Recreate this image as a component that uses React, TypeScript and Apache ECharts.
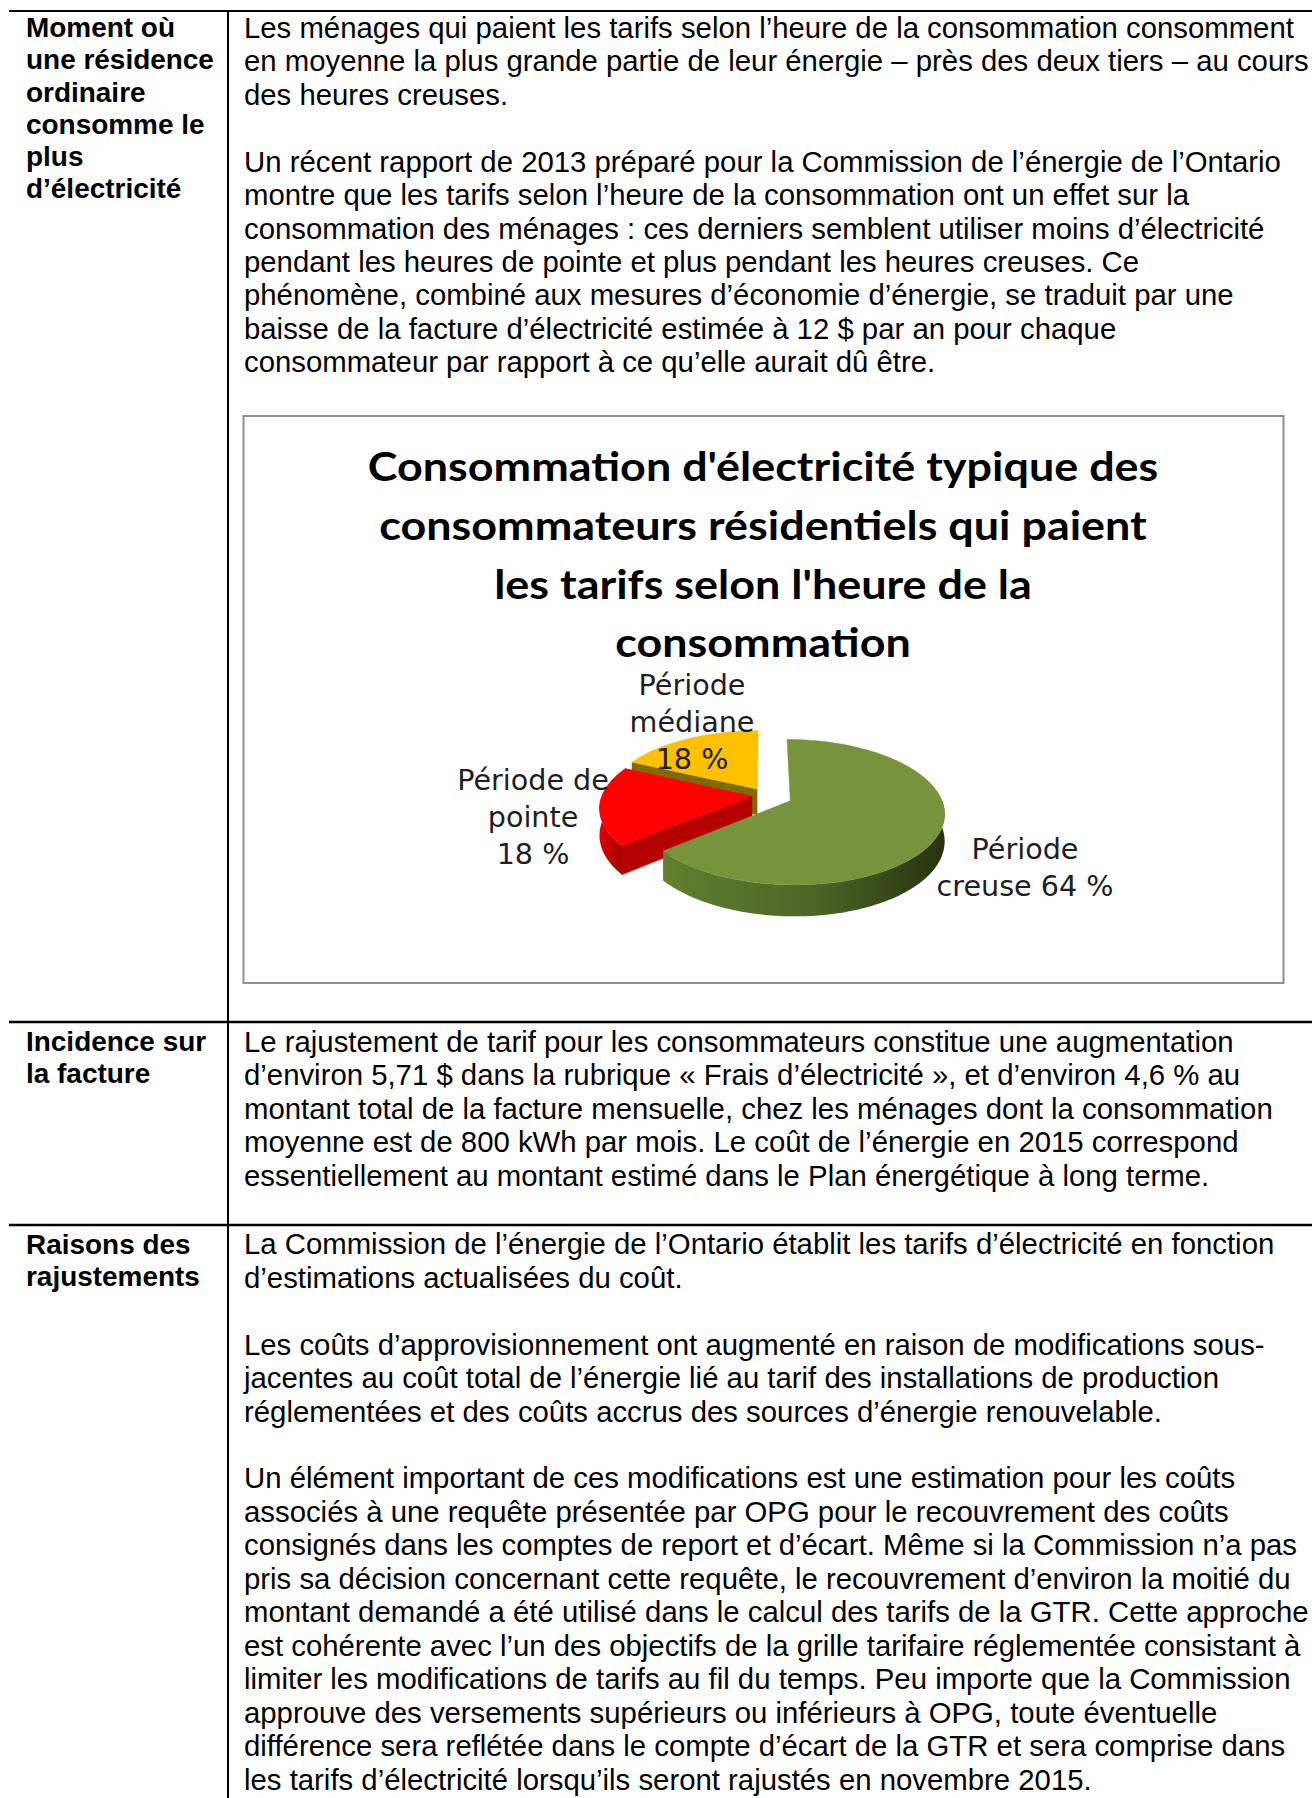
import React, { useEffect, useRef } from "react";
import * as echarts from "echarts";

// ---------------- data ----------------
const categories = ["Période creuse", "Période de pointe", "Période médiane"];
const values = [64, 18, 18];
const valueLabels = values.map((v) => `${v} %`);
const sliceLabelLines = [
  ["Période", `creuse ${valueLabels[0]}`],
  ["Période de", "pointe", valueLabels[1]],
  ["Période", "médiane", valueLabels[2]],
];
const titleLines = [
  "Consommation d'électricité typique des",
  "consommateurs résidentiels qui paient",
  "les tarifs selon l'heure de la",
  "consommation",
];
const rowHeads = [
  ["Moment où", "une résidence", "ordinaire", "consomme le", "plus", "d’électricité"],
  ["Incidence sur", "la facture"],
  ["Raisons des", "rajustements"],
];
const rowBodies = [
  [
    "Les ménages qui paient les tarifs selon l’heure de la consommation consomment",
    "en moyenne la plus grande partie de leur énergie – près des deux tiers – au cours",
    "des heures creuses.",
    "",
    "Un récent rapport de 2013 préparé pour la Commission de l’énergie de l’Ontario",
    "montre que les tarifs selon l’heure de la consommation ont un effet sur la",
    "consommation des ménages : ces derniers semblent utiliser moins d’électricité",
    "pendant les heures de pointe et plus pendant les heures creuses. Ce",
    "phénomène, combiné aux mesures d’économie d’énergie, se traduit par une",
    "baisse de la facture d’électricité estimée à 12 $ par an pour chaque",
    "consommateur par rapport à ce qu’elle aurait dû être.",
  ],
  [
    "Le rajustement de tarif pour les consommateurs constitue une augmentation",
    "d’environ 5,71 $ dans la rubrique « Frais d’électricité », et d’environ 4,6 % au",
    "montant total de la facture mensuelle, chez les ménages dont la consommation",
    "moyenne est de 800 kWh par mois. Le coût de l’énergie en 2015 correspond",
    "essentiellement au montant estimé dans le Plan énergétique à long terme.",
  ],
  [
    "La Commission de l’énergie de l’Ontario établit les tarifs d’électricité en fonction",
    "d’estimations actualisées du coût.",
    "",
    "Les coûts d’approvisionnement ont augmenté en raison de modifications sous-",
    "jacentes au coût total de l’énergie lié au tarif des installations de production",
    "réglementées et des coûts accrus des sources d’énergie renouvelable.",
    "",
    "Un élément important de ces modifications est une estimation pour les coûts",
    "associés à une requête présentée par OPG pour le recouvrement des coûts",
    "consignés dans les comptes de report et d’écart. Même si la Commission n’a pas",
    "pris sa décision concernant cette requête, le recouvrement d’environ la moitié du",
    "montant demandé a été utilisé dans le calcul des tarifs de la GTR. Cette approche",
    "est cohérente avec l’un des objectifs de la grille tarifaire réglementée consistant à",
    "limiter les modifications de tarifs au fil du temps. Peu importe que la Commission",
    "approuve des versements supérieurs ou inférieurs à OPG, toute éventuelle",
    "différence sera reflétée dans le compte d’écart de la GTR et sera comprise dans",
    "les tarifs d’électricité lorsqu’ils seront rajustés en novembre 2015.",
  ],
];

// ---------------- layout / style ----------------
const PAGE_W = 1312;
const PAGE_H = 1798;
const BODY_FF = '"Liberation Sans", Arial, sans-serif';
const BODY_TARGET_W = 1050; // width of first body line
const HEAD_TARGET_W = 188; // width of "une résidence"
const BODY_LH = 33.45;
const HEAD_LH = 32.1;
const LEFT_X = 26;
const RIGHT_X = 244;
const ROW_BASELINES = [37.5, 1051.5, 1254];
const ROW_LINES = [11, 1022, 1225];
const DIVIDER_X = 228;
const BOX = { x: 243.5, y: 416, w: 1040, h: 567 };
const TITLE = { cx: 763, baselines: [481, 540, 598.5, 657], fs: 39.5, ff: "Lato, sans-serif", targetW: 791 };
const LABEL = { ff: '"DejaVu Sans", sans-serif', lh: 37, color: "#1e1e1e", targetW: 177 };
const LABEL_POS = [
  { cx: 1025, baseline: 859 },
  { cx: 533, baseline: 789.5 },
  { cx: 692, baseline: 695 },
];
const PIE = { cx: 766, cy: 795.5, rx: 150, ry: 69.3, p: 0.155, depth: 26.2 };
const EXPLODE = [0.177, 0.094, 0.112];
const COLORS = [
  { top: "#77933C", side: ["#62802F", "#4C6426", "#27330F"], face: "#4F6228" },
  { top: "#FF0000", side: ["#E00000", "#C00000", "#A00000"], face: "#B40000" },
  { top: "#FFC000", side: ["#BF9000", "#A07800", "#806000"], face: "#806A08" },
];

function measureWidth(text: string, font: string) {
  const c = document.createElement("canvas").getContext("2d")!;
  c.font = font;
  return c.measureText(text).width;
}

function buildOption() {
  const bodyFs = (BODY_TARGET_W / measureWidth(rowBodies[0][0], `100px ${BODY_FF}`)) * 100;
  const headFs = (HEAD_TARGET_W / measureWidth(rowHeads[0][1], `bold 100px ${BODY_FF}`)) * 100;
  const titleScale = TITLE.targetW / measureWidth(titleLines[0], `bold ${TITLE.fs}px ${TITLE.ff}`);
  const labelFs = (LABEL.targetW / measureWidth(sliceLabelLines[0][1], `100px ${LABEL.ff}`)) * 100;

  const txt = (
    text: string,
    x: number,
    baseline: number,
    fs: number,
    ff: string,
    fw: string,
    sx: number,
    k: number,
    align: string,
    fill: string
  ) => ({
    type: "text",
    x,
    y: baseline - k * fs,
    scaleX: sx,
    z: 100,
    silent: true,
    style: {
      text,
      fontSize: fs,
      fontFamily: ff,
      fontWeight: fw,
      fill,
      align,
      verticalAlign: "middle",
    },
  });

  const graphics: any[] = [];
  ROW_LINES.forEach((y, i) =>
    graphics.push({
      type: "line",
      z: 90,
      shape: { x1: 9, y1: y, x2: PAGE_W, y2: y },
      style: { stroke: "#000", lineWidth: i === 0 ? 2 : 2.5 },
    })
  );
  graphics.push({
    type: "line",
    z: 90,
    shape: { x1: DIVIDER_X, y1: ROW_LINES[0], x2: DIVIDER_X, y2: PAGE_H },
    style: { stroke: "#000", lineWidth: 2 },
  });
  graphics.push({
    type: "rect",
    z: 1,
    shape: { x: BOX.x, y: BOX.y, width: BOX.w, height: BOX.h },
    style: { fill: "rgba(0,0,0,0)", stroke: "#8f8f8f", lineWidth: 2 },
  });
  rowHeads.forEach((lines, r) =>
    lines.forEach((t, i) =>
      graphics.push(
        txt(t, LEFT_X, ROW_BASELINES[r] + i * HEAD_LH, headFs, BODY_FF, "bold", 1, 0.3465, "left", "#000")
      )
    )
  );
  rowBodies.forEach((lines, r) =>
    lines.forEach((t, i) => {
      if (!t) return;
      graphics.push(
        txt(t, RIGHT_X, ROW_BASELINES[r] + i * BODY_LH, bodyFs, BODY_FF, "normal", 1, 0.3465, "left", "#000")
      );
    })
  );
  titleLines.forEach((t, i) =>
    graphics.push(txt(t, TITLE.cx, TITLE.baselines[i], TITLE.fs, TITLE.ff, "bold", titleScale, 0.387, "center", "#000"))
  );
  sliceLabelLines.forEach((lines, c) =>
    lines.forEach((t, i) =>
      graphics.push(
        txt(t, LABEL_POS[c].cx, LABEL_POS[c].baseline + i * LABEL.lh, labelFs, LABEL.ff, "normal", 1, 0.346, "center", LABEL.color)
      )
    )
  );

  const total = values.reduce((a, b) => a + b, 0);
  const starts = values.map((_, i) => values.slice(0, i).reduce((a, b) => a + b, 0));
  const drawOrder = [2, 1, 0];
  const pieData = drawOrder.map((i) => ({ name: categories[i], value: [values[i], starts[i], i] }));

  const renderItem = (_params: any, api: any) => {
    const v = api.value(0);
    const st = api.value(1);
    const idx = api.value(2);
    const a0 = (st / total) * 2 * Math.PI;
    const a1 = ((st + v) / total) * 2 * Math.PI;
    const mid = (a0 + a1) / 2;
    const e = EXPLODE[idx];
    const ox = e * Math.sin(mid);
    const oz = -e * Math.cos(mid);
    const proj = (X: number, Z: number, down: boolean) => {
      const s = 1 / (1 - PIE.p * Z);
      return [PIE.cx + PIE.rx * X * s, PIE.cy + PIE.ry * Z * s + (down ? PIE.depth * s : 0)];
    };
    const rim = (a: number, down: boolean) => proj(Math.sin(a) + ox, -Math.cos(a) + oz, down);
    const ctr = (down: boolean) => proj(ox, oz, down);
    const arc = (from: number, to: number, down: boolean) => {
      const n = Math.max(2, Math.ceil(Math.abs(to - from) / (Math.PI / 180)));
      const pts: number[][] = [];
      for (let k = 0; k <= n; k++) pts.push(rim(from + ((to - from) * k) / n, down));
      return pts;
    };
    const col = COLORS[idx];
    const poly = (points: number[][], fill: any) => ({
      type: "polygon",
      shape: { points },
      style: { fill, stroke: typeof fill === "string" ? fill : "none", lineWidth: 0.5 },
    });
    const children: any[] = [];
    if (Math.sin(a0) < -1e-6) children.push(poly([ctr(false), rim(a0, false), rim(a0, true), ctr(true)], col.face));
    if (Math.sin(a1) > 1e-6) children.push(poly([ctr(false), rim(a1, false), rim(a1, true), ctr(true)], col.face));
    const fs = Math.max(a0, Math.PI / 2);
    const fe = Math.min(a1, (3 * Math.PI) / 2);
    if (fe > fs) {
      const grad = new echarts.graphic.LinearGradient(0, 0, 1, 0, [
        { offset: 0, color: col.side[0] },
        { offset: 0.55, color: col.side[1] },
        { offset: 1, color: col.side[2] },
      ]);
      children.push(poly([...arc(fs, fe, false), ...arc(fe, fs, true)], grad));
    }
    children.push(poly([ctr(false), ...arc(a0, a1, false)], col.top));
    return { type: "group", children };
  };

  return {
    animation: false,
    backgroundColor: "#ffffff",
    graphic: graphics,
    series: [
      {
        type: "custom",
        coordinateSystem: "none",
        silent: true,
        z: 10,
        renderItem,
        data: pieData,
      },
    ],
  };
}

export default function App() {
  const ref = useRef<HTMLDivElement>(null);
  useEffect(() => {
    document.body.style.margin = "0";
    const chart = echarts.init(ref.current!, null, { renderer: "svg", width: PAGE_W, height: PAGE_H });
    chart.setOption(buildOption() as any);
    return () => chart.dispose();
  }, []);
  return (
    <div
      ref={ref}
      style={{ position: "absolute", left: 0, top: 0, width: PAGE_W, height: PAGE_H, background: "#fff" }}
    />
  );
}
